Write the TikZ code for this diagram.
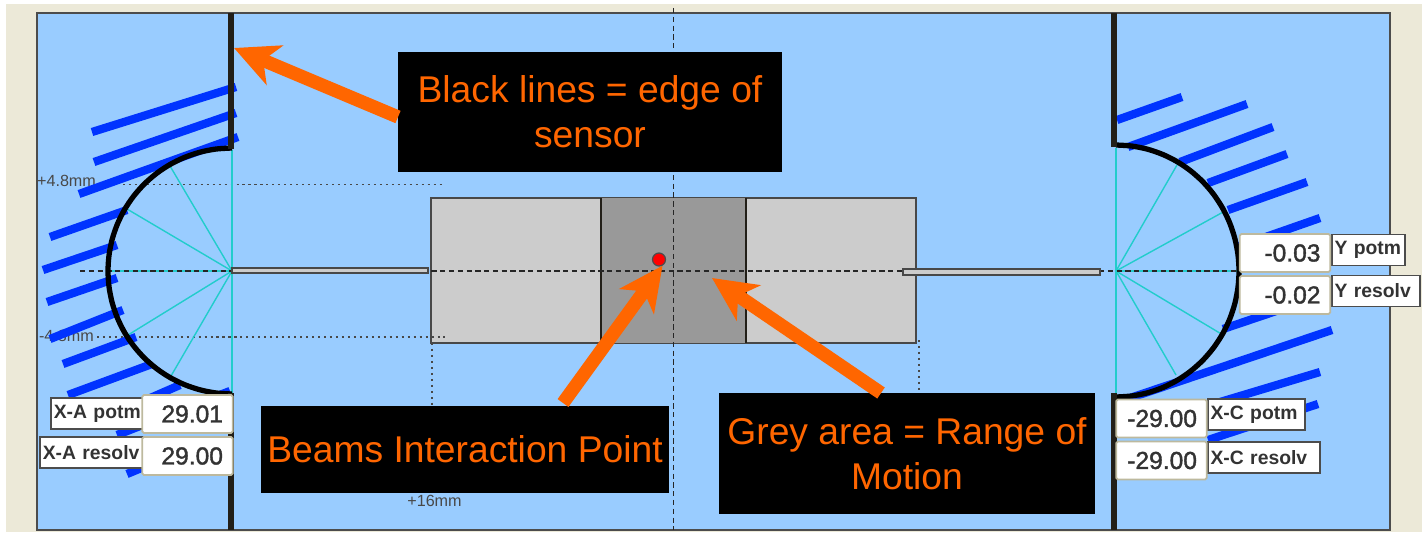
\documentclass[tikz,border=0pt]{standalone}
\usepackage{xcolor}
\usepackage{fontspec}
\usepackage{tikz}
\usetikzlibrary{positioning,arrows.meta}
\setmainfont{Liberation Sans}
\newfontfamily\readoutfont[FakeBold=1.5]{Liberation Sans}

\definecolor{framebeige}{HTML}{ECE9D8}
\definecolor{panelblue}{HTML}{99CCFF}
\definecolor{hatchblue}{HTML}{0033FF}
\definecolor{sensorblack}{HTML}{221F18}
\definecolor{spoketeal}{HTML}{22CCCC}
\definecolor{calloutorange}{HTML}{FF6600}
\definecolor{valueedge}{HTML}{BDB99E}
\definecolor{scalegrey}{HTML}{484848}

\tikzset{
  hatch/.style={hatchblue, line width=4.7pt},
  spoke/.style={spoketeal, line width=0.8pt},
  sensor/.style={sensorblack, line width=3.3pt},
  rim/.style={black, line width=3pt, line join=round},
  rod/.style={draw=scalegrey, fill=black!20, line width=0.8pt},
  guide/.style={scalegrey, line width=1pt, dash pattern=on 1.2pt off 2.2pt},
  axis/.style={black!85, line width=0.9pt, dash pattern=on 3pt off 2pt},
  callout/.style={fill=black, text=calloutorange, align=center, inner sep=0pt,
    font=\fontsize{21.2}{25.5}\selectfont},
  pointer/.style={calloutorange, line width=7.6pt,
    -{Stealth[length=25pt,width=24pt,inset=7pt]}},
  scaletext/.style={text=scalegrey, inner sep=0pt, font=\fontsize{9.2}{11}\selectfont},
  readout/.style={draw=valueedge, fill=white, line width=1pt, rounded corners=1pt,
    text width=1.42cm, align=right, inner xsep=5.6pt, minimum height=#1,
    text=black!80, font=\readoutfont\fontsize{14}{16}\selectfont},
  readname/.style={draw=black!70, fill=white, line width=0.8pt, text width=#1,
    align=left, inner xsep=1.5pt, inner ysep=0pt, minimum height=0.62cm,
    text=black!80, font=\bfseries\fontsize{11}{13}\selectfont}
}

\begin{document}
\begin{tikzpicture}[x=0.02cm,y=-0.02cm]

\useasboundingbox (0,0) rectangle (1422,537);
\fill[framebeige] (6,4) rectangle (1422,532);
\draw[fill=panelblue, draw=black!70, line width=1pt] (37,13) rectangle (1390,530);

% range of motion
\draw[fill=black!20, draw=scalegrey, line width=1pt] (431,198) rectangle (916,343);
\fill[black!40] (601,198) rectangle (746,343);
\draw[sensorblack, line width=1.4pt] (601,198) -- (601,343);
\draw[sensorblack, line width=1.4pt] (746,198) -- (746,343);

% scale marks
\draw[guide] (123,184.5) -- (445,184.5);
\draw[guide] (97,337) -- (445,337);
\draw[guide] (432,343) -- (432,405);
\draw[guide] (919,340) -- (919,392);
\node[scaletext](plusfour) at (66.5,181) {+4.8mm};
\node[scaletext](minusfour) at (66.5,336) {-4.8mm};
\node[scaletext](plussixteen) at (434.5,501) {+16mm};

% left hatching
\draw[hatch] (92,132) -- (236,87);
\draw[hatch] (94,162) -- (236,113);
\draw[hatch] (79,194) -- (238,137);
\draw[hatch] (50,237) -- (127,210);
\draw[hatch] (43,270) -- (117,245);
\draw[hatch] (47,302) -- (117,278);
\draw[hatch] (50,339) -- (123,310);
\draw[hatch] (63,364) -- (136,337);
\draw[hatch] (68,395) -- (152,364);
\draw[hatch] (125,409) -- (180,385);
\draw[hatch] (117,435) -- (230,391);
\draw[hatch] (127,474) -- (180,452);

% right hatching
\draw[hatch] (1117,120) -- (1182,97);
\draw[hatch] (1128,147) -- (1247,104);
\draw[hatch] (1180,162) -- (1273,127);
\draw[hatch] (1208,183) -- (1287,154);
\draw[hatch] (1228,210) -- (1307,182);
\draw[hatch] (1237,247) -- (1320,218);
\draw[hatch] (1223,329) -- (1300,303);
\draw[hatch] (1130,398) -- (1332,330);
\draw[hatch] (1210,405) -- (1320,372);
\draw[hatch] (1208,440) -- (1318,404);

% spokes
\draw[spoke] (232,271) -- (232,150);
\draw[spoke] (232,271) -- (170,166);
\draw[spoke] (232,271) -- (127,209);
\draw[spoke] (232,271) -- (108,271);
\draw[spoke] (232,271) -- (128,335);
\draw[spoke] (232,271) -- (171,376);
\draw[spoke] (232,271) -- (232,393);
\draw[spoke] (1116,271) -- (1116,148);
\draw[spoke] (1116,271) -- (1177,165);
\draw[spoke] (1116,271) -- (1225,211);
\draw[spoke] (1116,271) -- (1238,271);
\draw[spoke] (1116,271) -- (1223,335);
\draw[spoke] (1116,271) -- (1176,375);
\draw[spoke] (1116,271) -- (1116,393);

% axes
\draw[axis] (80,271) -- (1238,271);
\draw[axis] (673.5,8) -- (673.5,530);

% rods
\draw[rod] (232,268) rectangle (428,273);
\draw[rod] (903,269) rectangle (1100,275);

% sensor edges
\draw[domain=90:270,smooth,variable=\x,rim] plot ({232+124*cos(\x)},{271-123*sin(\x)});
\draw[domain=-90:90,smooth,variable=\x,rim] plot ({1116+123*cos(\x)},{271+126*sin(\x)});
\draw[sensor] (231,13) -- (231,149);
\draw[sensor] (231,393) -- (231,530);
\draw[sensor] (1114,13) -- (1114,147);
\draw[sensor] (1114,393) -- (1114,530);

% interaction point
\node[circle, fill=red, draw=black!70, line width=0.7pt, minimum size=0.26cm, inner sep=0pt](ipdot) at (659,259.5) {};

% callouts
\node[callout, minimum width=7.68cm, minimum height=2.4cm](sensorbox) at (590,112) {Black lines = edge of\\sensor};
\node[callout, minimum width=8.16cm, minimum height=1.74cm](beamsbox) at (465,449.5) {Beams Interaction Point};
\node[callout, minimum width=7.52cm, minimum height=2.42cm](motionbox) at (907,453.5) {Grey area = Range of\\Motion};

\coordinate (edgetail) at (398,117);
\coordinate (edgetip) at (234,48);
\coordinate (beamstail) at (563,403);
\coordinate (motiontail) at (881,393);
\coordinate (motiontip) at (712,278);
\draw[pointer] (edgetail) -- (edgetip);
\draw[pointer] (beamstail) -- (ipdot.300);
\draw[pointer] (motiontail) -- (motiontip);

% readouts
\node[readname=1.75cm](xapotm) at (97.5,413.5) {X-A potm};
\node[readname=1.97cm](xaresolv) at (92,452.5) {X-A resolv};
\node[readout=0.76cm](xapotmval) at (187.5,414) {29.01};
\node[readout=0.76cm](xaresolvval) at (187.5,456) {29.00};

\node[readname=1.36cm](ypotm) at (1368.5,250) {Y potm};
\node[readname=1.66cm](yresolv) at (1376,291) {Y resolv};
\node[readout=0.76cm](ypotmval) at (1285,253) {-0.03};
\node[readout=0.76cm](yresolvval) at (1285,295) {-0.02};

\node[readname=1.84cm](xcpotm) at (1256.5,414.5) {X-C potm};
\node[readname=2.14cm](xcresolv) at (1264,457.5) {X-C resolv};
\node[readout=0.76cm](xcpotmval) at (1161.5,418.5) {-29.00};
\node[readout=0.76cm](xcresolvval) at (1161.5,460.5) {-29.00};

\end{tikzpicture}
\end{document}
